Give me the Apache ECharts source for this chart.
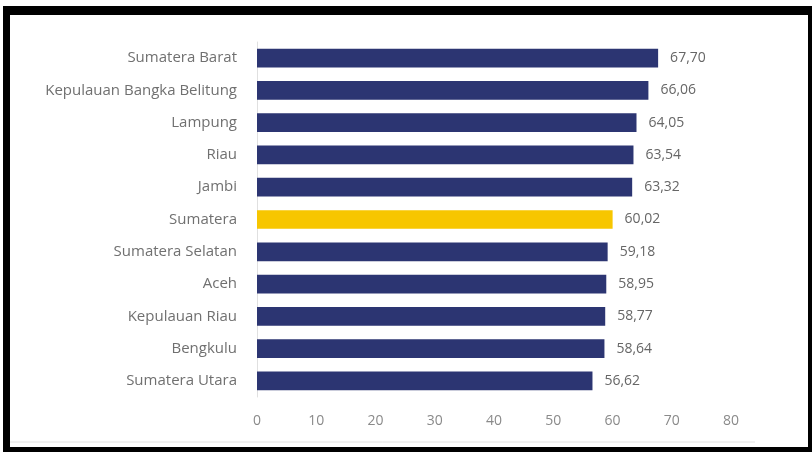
<!DOCTYPE html>
<html>
<head>
<meta charset="utf-8">
<script src="https://cdn.jsdelivr.net/npm/echarts@6/dist/echarts.min.js"></script>
<style>
html,body{margin:0;padding:0;background:#fff;}
#frame{position:absolute;left:3px;top:6px;width:798px;height:432px;border-left:7px solid #000;border-top:9px solid #000;border-right:5px solid #000;border-bottom:6px solid #000;}
#chart{position:absolute;left:0;top:0;width:812px;height:452px;}
</style>
</head>
<body>
<div id="chart"></div>
<div id="frame"></div>
<script>
const categories = ["Sumatera Barat","Kepulauan Bangka Belitung","Lampung","Riau","Jambi","Sumatera","Sumatera Selatan","Aceh","Kepulauan Riau","Bengkulu","Sumatera Utara"];
const values = [67.70,66.06,64.05,63.54,63.32,60.02,59.18,58.95,58.77,58.64,56.62];
const highlight = "Sumatera";
const xTicks = [0,10,20,30,40,50,60,70,80];

const navy = "#2c3572";
const gold = "#f7c600";
const chart = echarts.init(document.getElementById('chart'));
chart.setOption({
  animation:false,
  grid:{left:257,right:81,top:42,bottom:55,containLabel:false},
  graphic:[{type:'line',shape:{x1:10,y1:442,x2:755,y2:442},style:{stroke:'#e2e2e2',lineWidth:1}}],
  xAxis:{type:'value',min:xTicks[0],max:xTicks[xTicks.length-1],interval:10,
    axisLine:{show:false},axisTick:{show:false},splitLine:{show:false},
    axisLabel:{color:'#8a8a8a',fontFamily:'Open Sans',fontSize:14,margin:17}},
  yAxis:{type:'category',data:categories,inverse:true,
    axisLine:{show:true,lineStyle:{color:'#e0e0e0',width:1}},axisTick:{show:false},
    axisLabel:{color:'#707070',fontFamily:'Open Sans',fontSize:15,margin:20}},
  series:[{type:'bar',barWidth:'58%',
    data:values.map((v,i)=>({value:v,itemStyle:{color:categories[i]===highlight?gold:navy}})),
    label:{show:true,position:'right',distance:12,color:'#666',fontFamily:'Open Sans',fontSize:14,
      formatter:p=>p.value.toFixed(2).replace('.',',')}}]
});
</script>
</body>
</html>
